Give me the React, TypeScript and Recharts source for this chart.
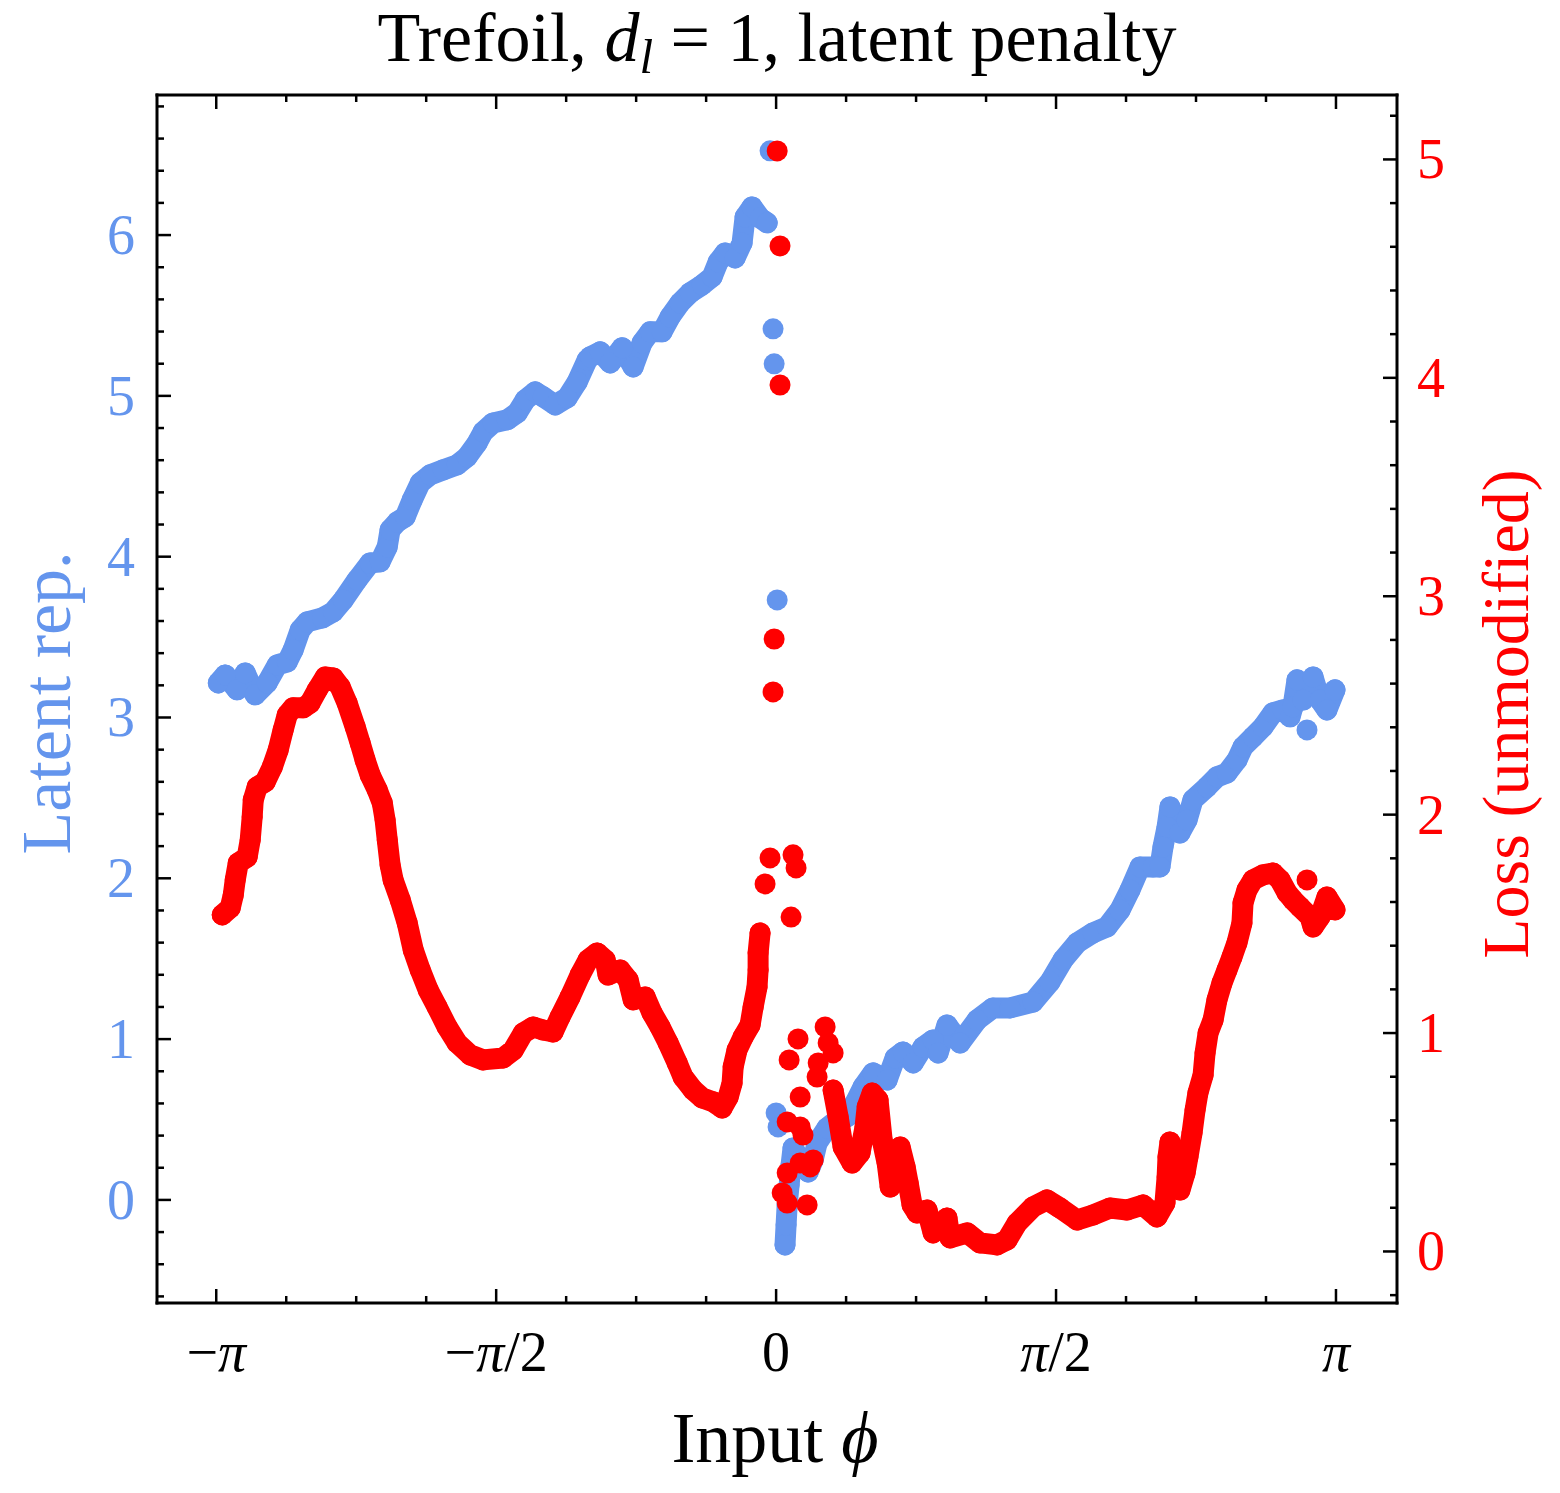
import { ScatterChart, Scatter, XAxis, YAxis } from "recharts"

const BLUE = "#6495ED"
const RED = "#FF0000"
const PI = Math.PI
const FONT = "'Liberation Serif', 'DejaVu Serif', serif"

// latent representation, main branch for phi < 0   [phi, latent]
const latentLeft: [number, number][] = [
  [-3.13, 3.215], [-3.091, 3.265], [-3.024, 3.172], [-2.979, 3.277], [-2.923, 3.141],
  [-2.856, 3.215], [-2.799, 3.327], [-2.743, 3.346], [-2.71, 3.42], [-2.67, 3.545],
  [-2.631, 3.595], [-2.547, 3.619], [-2.485, 3.657], [-2.429, 3.731], [-2.351, 3.856],
  [-2.278, 3.961], [-2.222, 3.968], [-2.182, 4.061], [-2.166, 4.167], [-2.126, 4.216],
  [-2.081, 4.248], [-2.042, 4.353], [-1.997, 4.459], [-1.941, 4.509], [-1.868, 4.54],
  [-1.79, 4.571], [-1.734, 4.621], [-1.677, 4.708], [-1.644, 4.776], [-1.588, 4.832],
  [-1.509, 4.851], [-1.453, 4.894], [-1.408, 4.975], [-1.352, 5.025], [-1.307, 4.994],
  [-1.24, 4.944], [-1.173, 4.988], [-1.116, 5.087], [-1.06, 5.224], [-1.043, 5.243],
  [-0.987, 5.274], [-0.931, 5.205], [-0.864, 5.299], [-0.802, 5.18], [-0.752, 5.33],
  [-0.707, 5.398], [-0.64, 5.398], [-0.595, 5.491], [-0.539, 5.578], [-0.482, 5.641],
  [-0.415, 5.69], [-0.359, 5.74], [-0.325, 5.833], [-0.286, 5.889], [-0.23, 5.858],
  [-0.191, 5.951], [-0.174, 6.113], [-0.135, 6.175], [-0.09, 6.107], [-0.05, 6.076],
]

// latent representation, main branch for phi > 0
const latentRight: [number, number][] = [
  [0.05, -0.28], [0.056, -0.155], [0.062, -0.031], [0.073, 0.093], [0.084, 0.218],
  [0.095, 0.323], [0.135, 0.249], [0.18, 0.174], [0.208, 0.249], [0.23, 0.354],
  [0.286, 0.448], [0.342, 0.498], [0.398, 0.516], [0.443, 0.603], [0.488, 0.703],
  [0.544, 0.79], [0.623, 0.746], [0.668, 0.883], [0.712, 0.92], [0.769, 0.852],
  [0.825, 0.951], [0.881, 0.995], [0.909, 0.914], [0.959, 1.088], [1.032, 0.976],
  [1.128, 1.119], [1.217, 1.194], [1.313, 1.194], [1.442, 1.231], [1.537, 1.356],
  [1.61, 1.493], [1.689, 1.598], [1.778, 1.66], [1.857, 1.698], [1.93, 1.803],
  [1.986, 1.928], [2.042, 2.071], [2.115, 2.071], [2.154, 2.071], [2.171, 2.195],
  [2.194, 2.32], [2.21, 2.444], [2.266, 2.282], [2.306, 2.363], [2.339, 2.488],
  [2.418, 2.568], [2.474, 2.631], [2.53, 2.655], [2.586, 2.736], [2.62, 2.817],
  [2.676, 2.879], [2.732, 2.942], [2.788, 3.029], [2.844, 3.047], [2.884, 3.004],
  [2.9, 3.066], [2.923, 3.234], [2.957, 3.109], [3.013, 3.252], [3.052, 3.109],
  [3.091, 3.047], [3.136, 3.172],
]

// isolated latent points
const latentStray: [number, number][] = [
  [-0.034, 6.524], [-0.017, 5.417], [-0.011, 5.199], [0.006, 3.731],
  [0.0, 0.541], [0.011, 0.454], [2.979, 2.923],
]

// loss, main branch for phi < 0   [phi, loss]
const lossLeft: [number, number][] = [
  [-3.108, 1.541], [-3.063, 1.573], [-3.046, 1.632], [-3.035, 1.701], [-3.018, 1.779],
  [-2.968, 1.806], [-2.951, 1.884], [-2.94, 1.989], [-2.934, 2.067], [-2.912, 2.127],
  [-2.867, 2.15], [-2.827, 2.218], [-2.794, 2.296], [-2.766, 2.388], [-2.743, 2.457],
  [-2.71, 2.489], [-2.654, 2.489], [-2.615, 2.511], [-2.575, 2.571], [-2.53, 2.63],
  [-2.485, 2.626], [-2.446, 2.585], [-2.407, 2.511], [-2.362, 2.402], [-2.334, 2.328],
  [-2.306, 2.25], [-2.278, 2.182], [-2.238, 2.113], [-2.21, 2.054], [-2.194, 1.976],
  [-2.182, 1.884], [-2.166, 1.77], [-2.149, 1.701], [-2.109, 1.609], [-2.07, 1.504],
  [-2.036, 1.38], [-1.997, 1.289], [-1.952, 1.197], [-1.902, 1.119], [-1.846, 1.028],
  [-1.79, 0.955], [-1.717, 0.9], [-1.644, 0.877], [-1.532, 0.886], [-1.475, 0.922],
  [-1.419, 1.0], [-1.363, 1.028], [-1.307, 1.014], [-1.251, 1.005], [-1.212, 1.074],
  [-1.156, 1.165], [-1.1, 1.266], [-1.055, 1.335], [-1.004, 1.367], [-0.959, 1.335],
  [-0.943, 1.266], [-0.875, 1.289], [-0.83, 1.243], [-0.802, 1.152], [-0.735, 1.165],
  [-0.696, 1.092], [-0.651, 1.028], [-0.606, 0.955], [-0.555, 0.863], [-0.522, 0.799],
  [-0.466, 0.74], [-0.415, 0.703], [-0.353, 0.685], [-0.303, 0.657], [-0.269, 0.707],
  [-0.247, 0.771], [-0.241, 0.845], [-0.219, 0.923], [-0.185, 0.982], [-0.146, 1.037],
  [-0.129, 1.119], [-0.107, 1.211], [-0.101, 1.289], [-0.101, 1.367], [-0.09, 1.458],
]

// loss, main branch for phi > 0
const lossRight: [number, number][] = [
  [0.32, 0.739], [0.348, 0.616], [0.376, 0.478], [0.426, 0.405], [0.471, 0.451],
  [0.499, 0.57], [0.511, 0.662], [0.539, 0.725], [0.572, 0.694], [0.595, 0.511],
  [0.623, 0.405], [0.64, 0.295], [0.696, 0.478], [0.724, 0.387], [0.741, 0.314],
  [0.763, 0.213], [0.791, 0.176], [0.847, 0.19], [0.881, 0.085], [0.959, 0.153],
  [0.976, 0.062], [1.072, 0.085], [1.144, 0.039], [1.24, 0.03], [1.296, 0.053],
  [1.352, 0.13], [1.442, 0.204], [1.52, 0.236], [1.593, 0.199], [1.689, 0.144],
  [1.778, 0.167], [1.874, 0.199], [1.969, 0.19], [2.059, 0.213], [2.137, 0.158],
  [2.182, 0.222], [2.194, 0.341], [2.199, 0.433], [2.21, 0.501], [2.266, 0.281],
  [2.295, 0.359], [2.311, 0.433], [2.334, 0.543], [2.351, 0.648], [2.367, 0.726],
  [2.396, 0.808], [2.407, 0.909], [2.424, 1.0], [2.452, 1.06], [2.474, 1.152],
  [2.502, 1.229], [2.53, 1.289], [2.558, 1.348], [2.586, 1.413], [2.614, 1.504],
  [2.62, 1.596], [2.642, 1.655], [2.676, 1.701], [2.732, 1.724], [2.788, 1.733],
  [2.828, 1.701], [2.867, 1.642], [2.9, 1.61], [2.94, 1.577], [2.996, 1.532],
  [3.013, 1.486], [3.052, 1.532], [3.091, 1.623], [3.136, 1.564],
]

// isolated loss points (mostly around phi = 0)
const lossStray: [number, number][] = [
  [0.006, 5.039], [0.022, 4.604], [0.022, 3.967], [-0.011, 2.804], [-0.017, 2.562],
  [-0.034, 1.802], [-0.062, 1.683], [0.095, 1.816], [0.112, 1.756], [0.084, 1.531],
  [0.123, 0.973], [0.073, 0.877], [0.275, 1.028], [0.292, 0.955], [0.32, 0.909],
  [0.236, 0.863], [0.23, 0.799], [0.135, 0.707], [0.062, 0.593], [0.135, 0.57],
  [0.151, 0.533], [0.135, 0.405], [0.191, 0.387], [0.208, 0.419], [0.062, 0.359],
  [0.034, 0.268], [0.062, 0.222], [0.174, 0.213], [2.979, 1.701],
]

const xTickLabels = ["−π", "−π/2", "0", "π/2", "π"]
const latentTickLabels = ["0", "1", "2", "3", "4", "5", "6"]
const lossTickLabels = ["0", "1", "2", "3", "4", "5"]

const xTicks: number[] = []
for (let k = -8; k <= 8; k++) xTicks.push((k * PI) / 8)
const latentTicks: number[] = []
for (let k = -3; k <= 34; k++) latentTicks.push(k / 5)
const lossTicks: number[] = []
for (let k = -1; k <= 26; k++) lossTicks.push(k / 5)

const toPoints = (rows: [number, number][]) => rows.map(([phi, v]) => ({ phi, v }))

const R = 10.5
const dot = (color: string) => (p: any) => <circle cx={p.cx} cy={p.cy} r={R} fill={color} />
const thick = (color: string) => ({
  stroke: color,
  strokeWidth: 2 * R,
  strokeLinecap: "round" as const,
  strokeLinejoin: "round" as const,
})

const tickStyle = { stroke: "#000", strokeWidth: 2.5 }

// "π" is set in italic like in TeX
const PiText = ({ s }: { s: string }) => (
  <>
    {s.split(/(π)/).filter(Boolean).map((part, i) =>
      part === "π" ? (
        <tspan key={i} fontStyle="italic">π</tspan>
      ) : (
        <tspan key={i}>{part}</tspan>
      ),
    )}
  </>
)

const XTick = ({ x, y, payload, top }: any) => {
  const k = Math.round(payload.value / (PI / 8))
  const major = k % 4 === 0
  const len = major ? 14 : 7
  return (
    <g>
      <line x1={x} x2={x} y1={y} y2={top ? y + len : y - len} {...tickStyle} />
      {major && !top && (
        <text x={x} y={y + 68} textAnchor="middle" fontFamily={FONT} fontSize={56} fill="#000">
          <PiText s={xTickLabels[k / 4 + 2]} />
        </text>
      )}
    </g>
  )
}

const LatentTick = ({ x, y, payload }: any) => {
  const k = Math.round(payload.value * 5)
  const major = k % 5 === 0
  return (
    <g>
      <line x1={x} x2={x + (major ? 14 : 7)} y1={y} y2={y} {...tickStyle} />
      {major && (
        <text x={x - 22} y={y} dy={19} textAnchor="end" fontFamily={FONT} fontSize={56} fill={BLUE}>
          {latentTickLabels[k / 5]}
        </text>
      )}
    </g>
  )
}

const LossTick = ({ x, y, payload }: any) => {
  const k = Math.round(payload.value * 5)
  const major = k % 5 === 0
  return (
    <g>
      <line x1={x} x2={x - (major ? 14 : 7)} y1={y} y2={y} {...tickStyle} />
      {major && (
        <text x={x + 20} y={y} dy={19} textAnchor="start" fontFamily={FONT} fontSize={56} fill={RED}>
          {lossTickLabels[k / 5]}
        </text>
      )}
    </g>
  )
}

const W = 1544
const H = 1477
const frame = { stroke: "#000", strokeWidth: 3, strokeLinecap: "square" as const }

export default function App() {
  return (
    <div style={{ position: "relative", width: W, height: H, background: "#fff" }}>
      <ScatterChart width={W} height={H} margin={{ top: 0, right: 0, bottom: 0, left: 0 }}>
        <XAxis
          xAxisId="x"
          dataKey="phi"
          type="number"
          domain={[-3.474, 3.484]}
          allowDataOverflow
          ticks={xTicks}
          interval={0}
          height={182}
          tickSize={0}
          tickMargin={0}
          tickLine={false}
          axisLine={frame}
          tick={<XTick />}
        />
        <XAxis
          xAxisId="top"
          orientation="top"
          dataKey="phi"
          type="number"
          domain={[-3.474, 3.484]}
          allowDataOverflow
          ticks={xTicks}
          interval={0}
          height={87}
          tickSize={0}
          tickMargin={0}
          tickLine={false}
          axisLine={frame}
          tick={<XTick top />}
        />
        <YAxis
          yAxisId="l"
          dataKey="v"
          type="number"
          domain={[-0.641, 6.871]}
          allowDataOverflow
          ticks={latentTicks}
          interval={0}
          width={149}
          tickSize={0}
          tickMargin={0}
          tickLine={false}
          axisLine={frame}
          tick={<LatentTick />}
        />
        <YAxis
          yAxisId="r"
          orientation="right"
          dataKey="v"
          type="number"
          domain={[-0.236, 5.295]}
          allowDataOverflow
          ticks={lossTicks}
          interval={0}
          width={155}
          tickSize={0}
          tickMargin={0}
          tickLine={false}
          axisLine={frame}
          tick={<LossTick />}
        />
        <Scatter data={[]} xAxisId="top" yAxisId="l" isAnimationActive={false} />
        <Scatter
          data={toPoints(latentLeft)}
          xAxisId="x"
          yAxisId="l"
          fill={BLUE}
          line={thick(BLUE)}
          lineType="joint"
          shape={dot(BLUE)}
          isAnimationActive={false}
        />
        <Scatter
          data={toPoints(latentRight)}
          xAxisId="x"
          yAxisId="l"
          fill={BLUE}
          line={thick(BLUE)}
          lineType="joint"
          shape={dot(BLUE)}
          isAnimationActive={false}
        />
        <Scatter
          data={toPoints(latentStray)}
          xAxisId="x"
          yAxisId="l"
          fill={BLUE}
          shape={dot(BLUE)}
          isAnimationActive={false}
        />
        <Scatter
          data={toPoints(lossLeft)}
          xAxisId="x"
          yAxisId="r"
          fill={RED}
          line={thick(RED)}
          lineType="joint"
          shape={dot(RED)}
          isAnimationActive={false}
        />
        <Scatter
          data={toPoints(lossRight)}
          xAxisId="x"
          yAxisId="r"
          fill={RED}
          line={thick(RED)}
          lineType="joint"
          shape={dot(RED)}
          isAnimationActive={false}
        />
        <Scatter
          data={toPoints(lossStray)}
          xAxisId="x"
          yAxisId="r"
          fill={RED}
          shape={dot(RED)}
          isAnimationActive={false}
        />
      </ScatterChart>
      <div
        style={{
          position: "absolute",
          left: 149,
          top: 0,
          width: 1240,
          textAlign: "center",
          fontFamily: FONT,
          fontSize: 70,
          lineHeight: "60px",
          color: "#000",
          whiteSpace: "nowrap",
        }}
      >
        Trefoil, <i>d</i>
        <i style={{ fontSize: 49, position: "relative", top: 12 }}>l</i> = 1, latent penalty
      </div>
      <svg
        width={W}
        height={H}
        style={{ position: "absolute", left: 0, top: 0, pointerEvents: "none" }}
        fontFamily={FONT}
      >
        <text x={767} y={1454} textAnchor="middle" fontSize={72} fill="#000">
          <tspan>Input </tspan>
          <tspan fontStyle="italic">ϕ</tspan>
        </text>
        <text
          x={62}
          y={695}
          textAnchor="middle"
          fontSize={70}
          fill={BLUE}
          transform="rotate(-90 62 695)"
        >
          Latent rep.
        </text>
        <text
          x={1520}
          y={706}
          textAnchor="middle"
          fontSize={66}
          fill={RED}
          transform="rotate(-90 1520 706)"
        >
          Loss (unmodified)
        </text>
      </svg>
    </div>
  )
}
